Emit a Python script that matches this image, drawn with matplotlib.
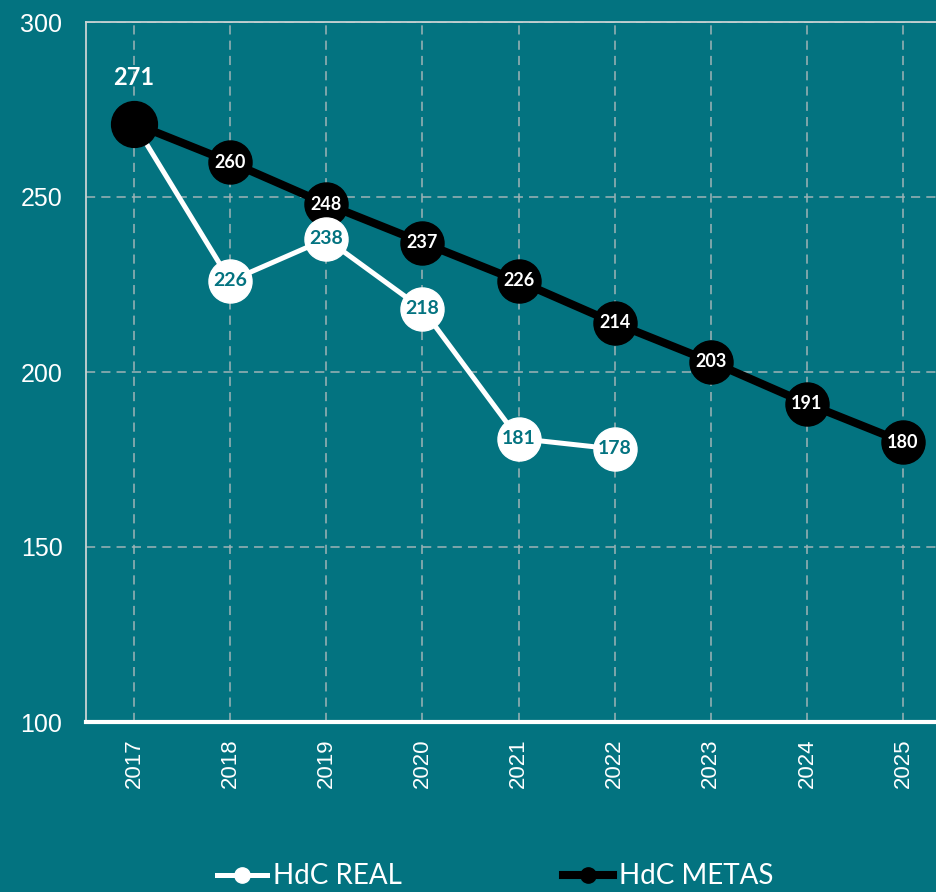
import matplotlib.pyplot as plt
from matplotlib.lines import Line2D

years = [2017, 2018, 2019, 2020, 2021, 2022, 2023, 2024, 2025]
real_years = [2017, 2018, 2019, 2020, 2021, 2022]
hdc_real = [271, 226, 238, 218, 181, 178]
hdc_metas = [271, 260, 248, 237, 226, 214, 203, 191, 180]
y_ticks = [100, 150, 200, 250, 300]

BG = "#037380"
GRID = "#9fb3b6"
SPINE = "#c9d3d4"

plt.rcParams["font.family"] = ["Lato", "DejaVu Sans"]

fig = plt.figure(figsize=(9.36, 8.92), dpi=100, facecolor=BG)
ax = fig.add_axes([86 / 936, 1 - 722 / 892, 1 - 86 / 936, 700 / 892])
ax.set_facecolor(BG)

ax.set_xlim(2016.5, 2017 + (936 - 134) / 96.125)
ax.set_ylim(100, 300)
ax.set_xticks(years)
ax.set_yticks(y_ticks)
ax.set_xticklabels([str(y) for y in years], rotation=90, fontsize=16,
                   color="white", family="Liberation Sans")
ax.set_yticklabels([str(v) for v in y_ticks], fontsize=18, color="white",
                   family="Liberation Sans")
ax.tick_params(axis="both", length=0)
ax.tick_params(axis="x", pad=12)
ax.tick_params(axis="y", pad=17)

ax.grid(True, color=GRID, linestyle=(0, (6, 4)), linewidth=1.1)
ax.set_axisbelow(True)
ax.spines["right"].set_visible(False)
ax.spines["top"].set_color(SPINE)
ax.spines["top"].set_linewidth(1.3)
ax.spines["left"].set_color(SPINE)
ax.spines["left"].set_linewidth(1.3)
ax.spines["bottom"].set_color("white")
ax.spines["bottom"].set_linewidth(3)

# metas line (black)
ax.plot(years, hdc_metas, color="black", linewidth=5.8, marker="o",
        markersize=31, markerfacecolor="black", markeredgecolor="black",
        zorder=3, clip_on=False)
# real line (white) drawn over the metas line
ax.plot(real_years, hdc_real, color="white", linewidth=3.6, marker="o",
        markersize=31, markerfacecolor="white", markeredgecolor="white",
        markevery=list(range(1, len(real_years))), zorder=4)
# first point, shared by both series
ax.plot([years[0]], [hdc_metas[0]], marker="o", markersize=33,
        color="black", zorder=5, linestyle="none")

for x, v in zip(years[1:], hdc_metas[1:]):
    ax.text(x, v, str(v), color="white", fontsize=13, fontweight="bold",
            ha="center", va="center", zorder=6)
for x, v in zip(real_years[1:], hdc_real[1:]):
    ax.text(x, v, str(v), color=BG, fontsize=14, fontweight="bold",
            ha="center", va="center", zorder=6)
ax.annotate(str(hdc_metas[0]), (years[0], hdc_metas[0]), xytext=(0, 33),
            textcoords="offset points", color="white", fontsize=17,
            fontweight="bold", ha="center", va="center", zorder=6)

handles = [
    Line2D([], [], color="white", linewidth=3.6, marker="o", markersize=11),
    Line2D([], [], color="black", linewidth=5.8, marker="o", markersize=11),
]
leg = fig.legend(handles, ["HdC REAL", "HdC METAS"], ncol=2, loc="center",
                 bbox_to_anchor=(0.529, 0.0175), frameon=False, fontsize=20,
                 handlelength=1.8, handletextpad=0.2, columnspacing=5.8)
for t in leg.get_texts():
    t.set_color("white")

fig.savefig("out.png", dpi=100, facecolor=BG)
